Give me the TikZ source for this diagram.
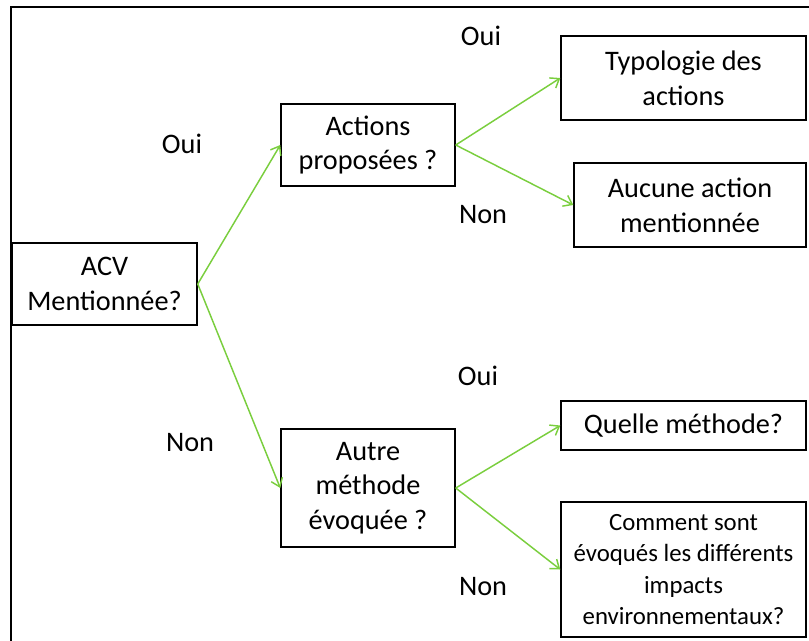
\documentclass[tikz,border=0pt]{standalone}
\usepackage{fontspec}
\setmainfont{Carlito}
\usetikzlibrary{arrows.meta}
\definecolor{arrowgreen}{RGB}{122,206,62}
\newdimen\px \px=0.75pt
\begin{document}
\begin{tikzpicture}[x=0.75pt,y=-0.75pt,
  box/.style={draw,line width=1.1pt,align=center,inner sep=0pt,
    font=\fontsize{21.2}{26}\selectfont},
  answer/.style={font=\fontsize{21.2}{26}\selectfont},
  branch/.style={-{Straight Barb[length=6pt,width=9pt]},arrowgreen,line width=1.1pt}]
\useasboundingbox (0,0) rectangle (809,640);
\draw[line width=1.1pt] (11,642) -- (11,7) -- (811,7); %frame

\node[box,minimum width=185\px,minimum height=82\px] (acv) at (104.5,284) {ACV\\Mentionnée?};
\node[box,minimum width=174\px,minimum height=82\px] (actions) at (368,145) {Actions\\proposées ?};
\node[box,minimum width=174\px,minimum height=118\px] (autre) at (368,488) {Autre\\méthode\\évoquée ?};
\node[box,minimum width=245\px,minimum height=84\px] (typo) at (683.5,78) {Typologie des\\actions};
\node[box,minimum width=232\px,minimum height=84\px] (aucune) at (690,205) {Aucune action\\mentionnée};
\node[box,minimum width=245\px,minimum height=49\px] (quelle) at (683.5,425.5) {Quelle méthode?};
\node[box,minimum width=245\px,minimum height=135\px,
  font=\fontsize{18.6}{23.5}\selectfont] (comment) at (683.5,569.5)
  {Comment sont\\évoqués les différents\\impacts\\environnementaux?};

\draw[branch] (acv.east) -- (actions.west);
\draw[branch] (acv.east) -- (autre.west);
\draw[branch] (actions.east) -- (typo.west);
\draw[branch] (actions.east) -- (aucune.west);
\draw[branch] (autre.east) -- (quelle.west);
\draw[branch] (autre.east) -- (comment.west);

\node[answer] (oui1) at (182,144) {Oui};
\node[answer] (non1) at (190,443) {Non};
\node[answer] (oui2) at (481,36) {Oui};
\node[answer] (non2) at (483,215) {Non};
\node[answer] (oui3) at (478,376) {Oui};
\node[answer] (non3) at (483,587) {Non};
\end{tikzpicture}
\end{document}
